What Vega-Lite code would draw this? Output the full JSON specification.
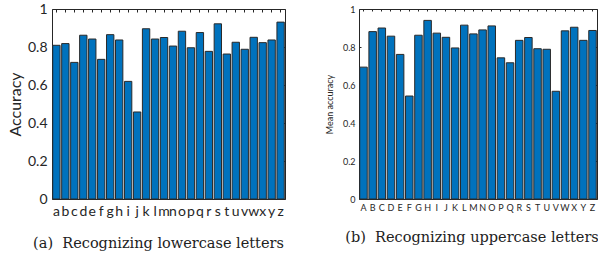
{
  "$schema": "https://vega.github.io/schema/vega-lite/v6.json",
  "padding": {"left": 6, "top": 1, "right": 0, "bottom": 0},
  "background": "white",
  "datasets": {
    "lower": [
      {"letter": "a", "acc": 0.809}, {"letter": "b", "acc": 0.818}, {"letter": "c", "acc": 0.719},
      {"letter": "d", "acc": 0.862}, {"letter": "e", "acc": 0.842}, {"letter": "f", "acc": 0.735},
      {"letter": "g", "acc": 0.865}, {"letter": "h", "acc": 0.837}, {"letter": "i", "acc": 0.619},
      {"letter": "j", "acc": 0.458}, {"letter": "k", "acc": 0.896}, {"letter": "l", "acc": 0.842},
      {"letter": "m", "acc": 0.85}, {"letter": "n", "acc": 0.805}, {"letter": "o", "acc": 0.883},
      {"letter": "p", "acc": 0.796}, {"letter": "q", "acc": 0.876}, {"letter": "r", "acc": 0.777},
      {"letter": "s", "acc": 0.922}, {"letter": "t", "acc": 0.763}, {"letter": "u", "acc": 0.825},
      {"letter": "v", "acc": 0.788}, {"letter": "w", "acc": 0.851}, {"letter": "x", "acc": 0.823},
      {"letter": "y", "acc": 0.837}, {"letter": "z", "acc": 0.931}
    ],
    "upper": [
      {"letter": "A", "acc": 0.694}, {"letter": "B", "acc": 0.881}, {"letter": "C", "acc": 0.9},
      {"letter": "D", "acc": 0.857}, {"letter": "E", "acc": 0.761}, {"letter": "F", "acc": 0.542},
      {"letter": "G", "acc": 0.862}, {"letter": "H", "acc": 0.94}, {"letter": "I", "acc": 0.873},
      {"letter": "J", "acc": 0.851}, {"letter": "K", "acc": 0.795}, {"letter": "L", "acc": 0.915},
      {"letter": "M", "acc": 0.869}, {"letter": "N", "acc": 0.89}, {"letter": "O", "acc": 0.911},
      {"letter": "P", "acc": 0.743}, {"letter": "Q", "acc": 0.717}, {"letter": "R", "acc": 0.835},
      {"letter": "S", "acc": 0.85}, {"letter": "T", "acc": 0.791}, {"letter": "U", "acc": 0.788},
      {"letter": "V", "acc": 0.567}, {"letter": "W", "acc": 0.885}, {"letter": "X", "acc": 0.904},
      {"letter": "Y", "acc": 0.835}, {"letter": "Z", "acc": 0.887}
    ]
  },
  "spacing": 74,
  "bounds": "flush",
  "hconcat": [
    {
      "width": 233,
      "height": 190,
      "data": {"name": "lower"},
      "title": {"text": "(a)\u00a0\u00a0Recognizing lowercase letters", "orient": "bottom", "font": "DejaVu Serif", "fontSize": 14.5, "fontWeight": "normal", "color": "#222", "offset": 19, "dx": -10},
      "resolve": {"axis": {"x": "independent", "y": "independent"}},
      "layer": [
        {
          "mark": {"type": "bar", "color": "#0072BD", "stroke": "#2a2a2a", "strokeWidth": 1},
          "encoding": {
            "x": {"field": "letter", "type": "nominal", "sort": null,
                  "scale": {"paddingInner": 0.18, "paddingOuter": 0.08},
                  "axis": {"orient": "bottom", "title": null, "labelAngle": 0, "domain": false, "tickSize": -3, "tickColor": "#262626", "labelPadding": 8, "labelFont": "Lato", "labelFontSize": 14, "labelColor": "#262626"}},
            "y": {"field": "acc", "type": "quantitative", "scale": {"domain": [0, 1], "nice": false},
                  "axis": {"orient": "left", "title": "Accuracy", "titleFont": "Lato", "titleFontSize": 16, "titleFontWeight": "normal", "titleColor": "#262626", "titlePadding": 4, "values": [0, 0.2, 0.4, 0.6, 0.8, 1], "format": "~g", "grid": false, "domain": false, "tickSize": -3, "tickColor": "#262626", "labelPadding": 8, "labelFont": "Lato", "labelFontSize": 14, "labelColor": "#262626"}}
          }
        },
        {
          "mark": {"type": "bar", "opacity": 0},
          "encoding": {
            "x": {"field": "letter", "type": "nominal", "sort": null,
                  "axis": {"orient": "top", "title": null, "labels": false, "domain": false, "tickSize": -3, "tickColor": "#262626"}},
            "y": {"field": "acc", "type": "quantitative",
                  "axis": {"orient": "right", "title": null, "labels": false, "values": [0, 0.2, 0.4, 0.6, 0.8, 1], "grid": false, "domain": false, "tickSize": -3, "tickColor": "#262626"}}
          }
        }
      ]
    },
    {
      "width": 238,
      "height": 190,
      "data": {"name": "upper"},
      "title": {"text": "(b)\u00a0\u00a0Recognizing uppercase letters", "orient": "bottom", "font": "DejaVu Serif", "fontSize": 14.5, "fontWeight": "normal", "color": "#222", "offset": 19, "dx": -6},
      "resolve": {"axis": {"x": "independent", "y": "independent"}},
      "layer": [
        {
          "mark": {"type": "bar", "color": "#0072BD", "stroke": "#2a2a2a", "strokeWidth": 1},
          "encoding": {
            "x": {"field": "letter", "type": "nominal", "sort": null,
                  "scale": {"paddingInner": 0.18, "paddingOuter": 0.08},
                  "axis": {"orient": "bottom", "title": null, "labelAngle": 0, "domain": false, "tickSize": -2, "tickColor": "#262626", "labelPadding": 6, "labelFont": "Lato", "labelFontSize": 9, "labelColor": "#262626"}},
            "y": {"field": "acc", "type": "quantitative", "scale": {"domain": [0, 1], "nice": false},
                  "axis": {"orient": "left", "title": "Mean accuracy", "titleFont": "Lato", "titleFontSize": 9, "titleFontWeight": "normal", "titleColor": "#262626", "titlePadding": 8, "values": [0, 0.2, 0.4, 0.6, 0.8, 1], "format": "~g", "grid": false, "domain": false, "tickSize": -2, "tickColor": "#262626", "labelPadding": 6, "labelFont": "Lato", "labelFontSize": 9, "labelColor": "#262626"}}
          }
        },
        {
          "mark": {"type": "bar", "opacity": 0},
          "encoding": {
            "x": {"field": "letter", "type": "nominal", "sort": null,
                  "axis": {"orient": "top", "title": null, "labels": false, "domain": false, "tickSize": -2, "tickColor": "#262626"}},
            "y": {"field": "acc", "type": "quantitative",
                  "axis": {"orient": "right", "title": null, "labels": false, "values": [0, 0.2, 0.4, 0.6, 0.8, 1], "grid": false, "domain": false, "tickSize": -2, "tickColor": "#262626"}}
          }
        }
      ]
    }
  ],
  "config": {
    "view": {"stroke": "#262626", "strokeWidth": 1}
  }
}
